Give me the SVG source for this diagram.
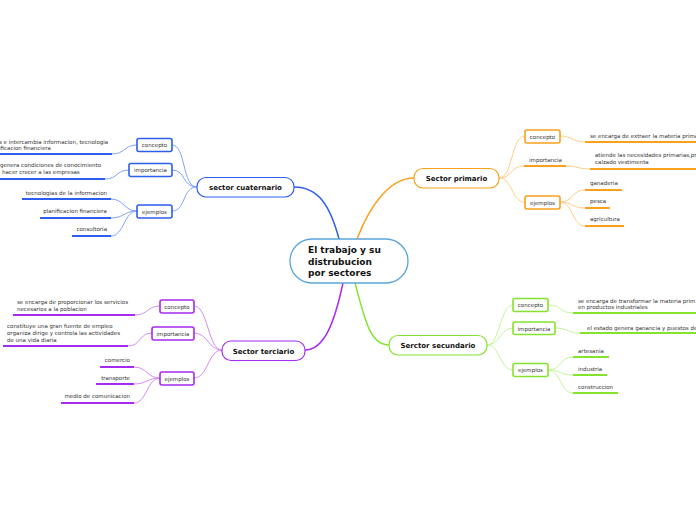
<svg xmlns="http://www.w3.org/2000/svg" width="696" height="520" viewBox="0 0 696 520">
<style>
text{font-family:"DejaVu Sans","Verdana",sans-serif;fill:#333}
.t{font-size:5.5px}
.bl{font-size:5.5px;text-anchor:middle}
.mn{font-size:7px;font-weight:bold;text-anchor:middle;fill:#111}
.cn{font-size:9px;font-weight:bold;fill:#111}
.c{fill:none;stroke-width:1}
.mc{fill:none;stroke-width:1.5}
.u{fill:none;stroke-width:2}
.box{fill:#fff;stroke-width:1.6}
.main{fill:#fff;stroke-width:1.2}
.B .c{stroke:#7fa3f8}.B .u,.B .box,.B .main,.B .mc{stroke:#2c5ef0}
.O .c{stroke:#fdcf88}.O .u,.O .box,.O .main,.O .mc{stroke:#f8a11c}
.G .c{stroke:#c3f59c}.G .u,.G .box,.G .main,.G .mc{stroke:#84e32c}
.P .c{stroke:#d28df8}.P .u,.P .box,.P .main,.P .mc{stroke:#a62af0}
</style>
<rect width="696" height="520" fill="#fff"/>
<g id="connectors">
 <g class="B">
  <path class="mc" d="M339,239 C330,205 318,187 294,187"/>
  <path class="c" d="M197,187 C182,187 186,145 172,145"/>
  <path class="c" d="M197,187 C182,187 186,170 172,170"/>
  <path class="c" d="M197,187 C182,187 186,211 172,211"/>
  <path class="c" d="M137,145 C124,145 125,154 112,154"/>
  <path class="c" d="M129,170 C116,170 118,179 105,179"/>
  <path class="c" d="M137,211 C124,211 124,199 111,199"/>
  <path class="c" d="M137,211 C124,211 124,218 111,218"/>
  <path class="c" d="M137,211 C124,211 124,236 111,236"/>
  <path class="u" d="M0,154 H112 M0,179 H105 M22,199 H111 M40,218 H111 M72,236 H111"/>
 </g>
 <g class="O">
  <path class="mc" d="M357,239 C370,205 390,178 414,178"/>
  <path class="c" d="M499,178 C513,178 511,136 525,136"/>
  <path class="c" d="M499,178 C513,178 510,166 524,166"/>
  <path class="c" d="M499,178 C513,178 511,202 525,202"/>
  <path class="c" d="M560,136 C573,136 572,142 585,142"/>
  <path class="c" d="M566,166 C578,166 578,169 590,169"/>
  <path class="c" d="M560,202 C573,202 572,190 585,190"/>
  <path class="c" d="M560,202 C573,202 572,208 585,208"/>
  <path class="c" d="M560,202 C573,202 572,226 585,226"/>
  <path class="u" d="M524,166 H566 M585,142 H696 M590,169 H696 M585,190 H622 M585,208 H610 M585,226 H624"/>
 </g>
 <g class="G">
  <path class="mc" d="M355,283 C365,320 370,345 389,345"/>
  <path class="c" d="M487,345 C500,345 500,305 513,305"/>
  <path class="c" d="M487,345 C500,345 500,328 513,328"/>
  <path class="c" d="M487,345 C500,345 500,370 513,370"/>
  <path class="c" d="M548,305 C561,305 560,313 573,313"/>
  <path class="c" d="M555,328 C568,328 567,333 580,333"/>
  <path class="c" d="M548,370 C561,370 560,357 573,357"/>
  <path class="c" d="M548,370 C561,370 560,375 573,375"/>
  <path class="c" d="M548,370 C561,370 560,393 573,393"/>
  <path class="u" d="M573,313 H696 M580,333 H696 M573,357 H609 M573,375 H607 M573,393 H618"/>
 </g>
 <g class="P">
  <path class="mc" d="M343,283 C335,320 325,350 305,350"/>
  <path class="c" d="M222,350 C208,350 208,306 194,306"/>
  <path class="c" d="M222,350 C208,350 208,333 194,333"/>
  <path class="c" d="M222,350 C208,350 208,378 194,378"/>
  <path class="c" d="M160,306 C147,306 148,315 135,315"/>
  <path class="c" d="M152,333 C139,333 141,346 128,346"/>
  <path class="c" d="M160,378 C147,378 147,367 134,367"/>
  <path class="c" d="M160,378 C147,378 147,384 134,384"/>
  <path class="c" d="M160,378 C147,378 147,403 134,403"/>
  <path class="u" d="M13,315 H135 M3,346 H128 M100,367 H134 M96,384 H134 M61,403 H134"/>
 </g>
</g>
<g id="center">
 <rect x="290" y="239" width="118" height="44" rx="22" fill="#fff" stroke="#5aa5dc" stroke-width="1.3"/>
 <text class="cn" x="308" y="253">El trabajo y su</text>
 <text class="cn" x="308" y="264.5">distrubucion</text>
 <text class="cn" x="308" y="276">por sectores</text>
</g>
<g id="cuaternario" class="B">
 <rect class="main" x="197" y="177.5" width="97" height="19.5" rx="9"/>
 <text class="mn" x="245.5" y="190">sector cuaternario</text>
</g>
<g id="cuat-concepto" class="B">
 <rect class="box" x="137" y="138.5" width="35" height="13" rx="2"/>
 <text class="bl" x="154.5" y="147">concepto</text>
 <text class="t" x="-1" y="144">s e intercambia informacion, tecnologia</text>
 <text class="t" x="-1" y="150">ificacion financiera</text>
</g>
<g id="cuat-importancia" class="B">
 <rect class="box" x="129" y="163.5" width="43" height="13" rx="2"/>
 <text class="bl" x="150.5" y="172">importancia</text>
 <text class="t" x="0" y="167">genera condiciones de conocimiento</text>
 <text class="t" x="2" y="174">hacer crecer a las empresas</text>
</g>
<g id="cuat-ejemplos" class="B">
 <rect class="box" x="137" y="205" width="35" height="13" rx="2"/>
 <text class="bl" x="154.5" y="213.5">ejemplos</text>
 <text class="t" x="107" y="195" text-anchor="end">tecnologias de la informacion</text>
 <text class="t" x="107" y="213" text-anchor="end">planificacion financiera</text>
 <text class="t" x="107" y="231" text-anchor="end">consultoria</text>
</g>
<g id="primario" class="O">
 <rect class="main" x="414" y="168.5" width="85" height="19.5" rx="9"/>
 <text class="mn" x="456.5" y="181">Sector primario</text>
</g>
<g id="prim-concepto" class="O">
 <rect class="box" x="525" y="130" width="35" height="13" rx="2"/>
 <text class="bl" x="542.5" y="138.5">concepto</text>
 <text class="t" x="590" y="138">se encarga de extraer la materia prima</text>
</g>
<g id="prim-importancia" class="O">
 <text class="t" x="529" y="162">importancia</text>
 <text class="t" x="595" y="157">atiende las necesidades primarias,pr</text>
 <text class="t" x="595" y="164">calzado vestimenta</text>
</g>
<g id="prim-ejemplos" class="O">
 <rect class="box" x="525" y="196" width="35" height="13" rx="2"/>
 <text class="bl" x="542.5" y="204.5">ejemplos</text>
 <text class="t" x="590" y="184.5">ganaderia</text>
 <text class="t" x="590" y="203">pesca</text>
 <text class="t" x="590" y="221">agricultura</text>
</g>
<g id="secundario" class="G">
 <rect class="main" x="389" y="335.5" width="98" height="19.5" rx="9"/>
 <text class="mn" x="438" y="348">Serctor secundario</text>
</g>
<g id="sec-concepto" class="G">
 <rect class="box" x="513" y="298.5" width="35" height="13" rx="2"/>
 <text class="bl" x="530.5" y="307">concepto</text>
 <text class="t" x="578" y="303">se encarga de transformar la materia prim</text>
 <text class="t" x="578" y="309">en productos industriales</text>
</g>
<g id="sec-importancia" class="G">
 <rect class="box" x="513" y="322" width="42" height="12.5" rx="2"/>
 <text class="bl" x="534" y="330.5">importancia</text>
 <text class="t" x="587" y="330">el estado genera ganancia y puestos de</text>
</g>
<g id="sec-ejemplos" class="G">
 <rect class="box" x="513" y="363.5" width="35" height="13" rx="2"/>
 <text class="bl" x="530.5" y="372">ejemplos</text>
 <text class="t" x="578" y="353">artesania</text>
 <text class="t" x="578" y="371">industria</text>
 <text class="t" x="578" y="389">construccion</text>
</g>
<g id="terciario" class="P">
 <rect class="main" x="222" y="341" width="83" height="19.5" rx="9"/>
 <text class="mn" x="263.5" y="353.5">Sector terciario</text>
</g>
<g id="ter-concepto" class="P">
 <rect class="box" x="160" y="300" width="34" height="13" rx="2"/>
 <text class="bl" x="177" y="308.5">concepto</text>
 <text class="t" x="17" y="304">se encarga de proporcionar los servicios</text>
 <text class="t" x="17" y="311">necesarios a la poblacion</text>
</g>
<g id="ter-importancia" class="P">
 <rect class="box" x="152" y="327" width="42" height="13" rx="2"/>
 <text class="bl" x="173" y="335.5">importancia</text>
 <text class="t" x="7" y="328">constituye una gran fuente de empleo</text>
 <text class="t" x="7" y="335">organiza dirige y controla las actividades</text>
 <text class="t" x="7" y="342">de una  vida diaria</text>
</g>
<g id="ter-ejemplos" class="P">
 <rect class="box" x="160" y="372" width="34" height="13" rx="2"/>
 <text class="bl" x="177" y="380.5">ejemplos</text>
 <text class="t" x="130" y="362" text-anchor="end">comercio</text>
 <text class="t" x="130" y="379.5" text-anchor="end">transporte</text>
 <text class="t" x="130" y="398" text-anchor="end">medio de comunicacion</text>
</g>
</svg>
